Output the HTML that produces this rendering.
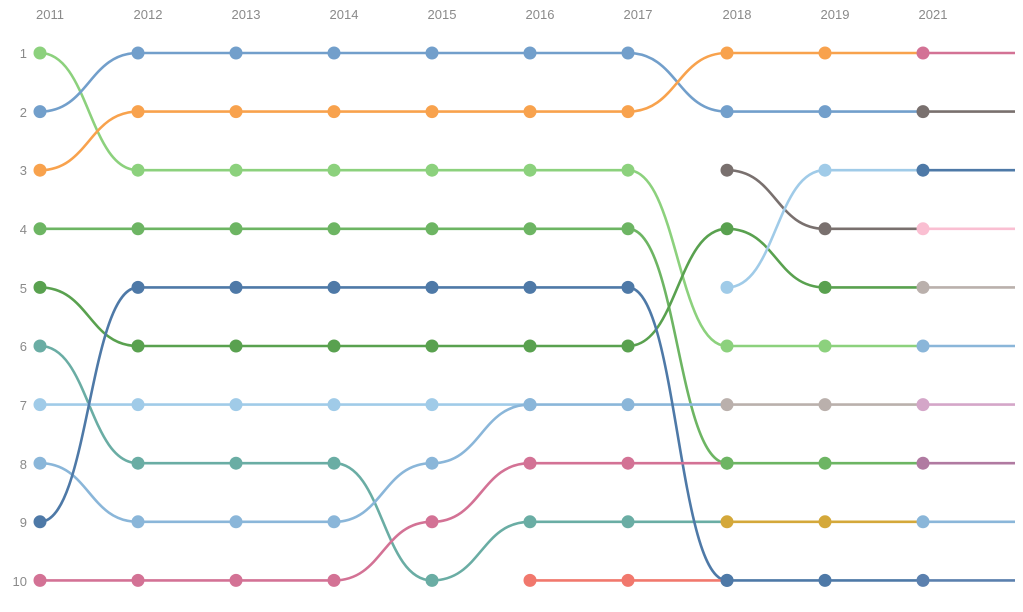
<!DOCTYPE html>
<html><head><meta charset="utf-8"><style>
html,body{margin:0;padding:0;background:#fff;width:1023px;height:612px;overflow:hidden}
svg{display:block;font-family:"Liberation Sans",sans-serif}
text{font-size:13px;fill:#8a8a8a}
</style></head><body>
<svg id="s" width="1023" height="612" viewBox="0 0 1023 612">
<g text-anchor="middle">
<text x="50" y="19">2011</text><text x="148" y="19">2012</text><text x="246" y="19">2013</text><text x="344" y="19">2014</text><text x="442" y="19">2015</text><text x="540" y="19">2016</text><text x="638" y="19">2017</text><text x="737" y="19">2018</text><text x="835" y="19">2019</text><text x="933" y="19">2021</text>
</g>
<g text-anchor="end">
<text x="27" y="58">1</text><text x="27" y="117">2</text><text x="27" y="175">3</text><text x="27" y="234">4</text><text x="27" y="293">5</text><text x="27" y="351">6</text><text x="27" y="410">7</text><text x="27" y="469">8</text><text x="27" y="527">9</text><text x="27" y="586">10</text>
</g>
<g id="L" fill="none" stroke-width="2.6"></g>
<g id="D"></g>
</svg>
<script>
var X=[40,138,236,334,432,530,628,727,825,923];
function Y(r){return 53+(r-1)*58.6;}
var LG='#8CD17D',B1='#729FCB',OR='#F8A24D',G4='#6DB563',G5='#59A14F',TE='#6AADA4',LB='#A0CBE8',B8='#8AB6D9',DB='#4E79A7',PK='#D37295',RD='#F1786D',GY='#79706E',GD='#D4A83A',GR='#BAB0AC',PU='#B07AA1',LP='#FABFD2',PP='#D4A6C8';
var S=[
[[0,1,LG],[1,3,LG],[2,3,LG],[3,3,LG],[4,3,LG],[5,3,LG],[6,3,LG],[7,6,LG],[8,6,LG],[9,6,B8]],
[[0,2,B1],[1,1,B1],[2,1,B1],[3,1,B1],[4,1,B1],[5,1,B1],[6,1,B1],[7,2,B1],[8,2,B1],[9,2,GY]],
[[0,3,OR],[1,2,OR],[2,2,OR],[3,2,OR],[4,2,OR],[5,2,OR],[6,2,OR],[7,1,OR],[8,1,OR],[9,1,PK]],
[[0,4,G4],[1,4,G4],[2,4,G4],[3,4,G4],[4,4,G4],[5,4,G4],[6,4,G4],[7,8,G4],[8,8,G4],[9,8,PU]],
[[0,5,G5],[1,6,G5],[2,6,G5],[3,6,G5],[4,6,G5],[5,6,G5],[6,6,G5],[7,4,G5],[8,5,G5],[9,5,GR]],
[[0,6,TE],[1,8,TE],[2,8,TE],[3,8,TE],[4,10,TE],[5,9,TE],[6,9,TE],[7,9,GD],[8,9,GD],[9,9,B8]],
[[0,7,LB],[1,7,LB],[2,7,LB],[3,7,LB],[4,7,LB],[5,7,B8],[6,7,B8],[7,7,GR],[8,7,GR],[9,7,PP]],
[[0,8,B8],[1,9,B8],[2,9,B8],[3,9,B8],[4,8,B8],[5,7,B8]],
[[0,9,DB],[1,5,DB],[2,5,DB],[3,5,DB],[4,5,DB],[5,5,DB],[6,5,DB],[7,10,DB],[8,10,DB],[9,10,'#5B80AE']],
[[0,10,PK],[1,10,PK],[2,10,PK],[3,10,PK],[4,9,PK],[5,8,PK],[6,8,PK],[7,8,G4]],
[[5,10,RD],[6,10,RD],[7,10,DB]],
[[7,3,GY],[8,4,GY],[9,4,LP]],
[[7,5,LB],[8,3,LB],[9,3,DB]]
];
var NS='http://www.w3.org/2000/svg',L=document.getElementById('L'),D=document.getElementById('D');
function el(t,a,p){var e=document.createElementNS(NS,t);for(var k in a)e.setAttribute(k,a[k]);p.appendChild(e);}
var dots=[];
S.forEach(function(s){
  for(var i=0;i<s.length;i++){
    var p=s[i];
    if(i<s.length-1){var q=s[i+1];var x0=X[p[0]],y0=Y(p[1]),x1=X[q[0]],y1=Y(q[1]),m=(x0+x1)/2;
      var d=(y0==y1)?('M'+x0+' '+y0+'L'+x1+' '+y1):('M'+x0+' '+y0+'C'+m+' '+y0+' '+m+' '+y1+' '+x1+' '+y1);
      el('path',{d:d,stroke:p[2]},L);}
    else if(p[0]==9){el('path',{d:'M'+X[9]+' '+Y(p[1])+'L1015 '+Y(p[1]),stroke:p[2]},L);}
    dots.push(p);
  }
});
dots.forEach(function(p){el('circle',{cx:X[p[0]],cy:Y(p[1]),r:6.5,fill:p[2]},D);});
</script>
</body></html>
